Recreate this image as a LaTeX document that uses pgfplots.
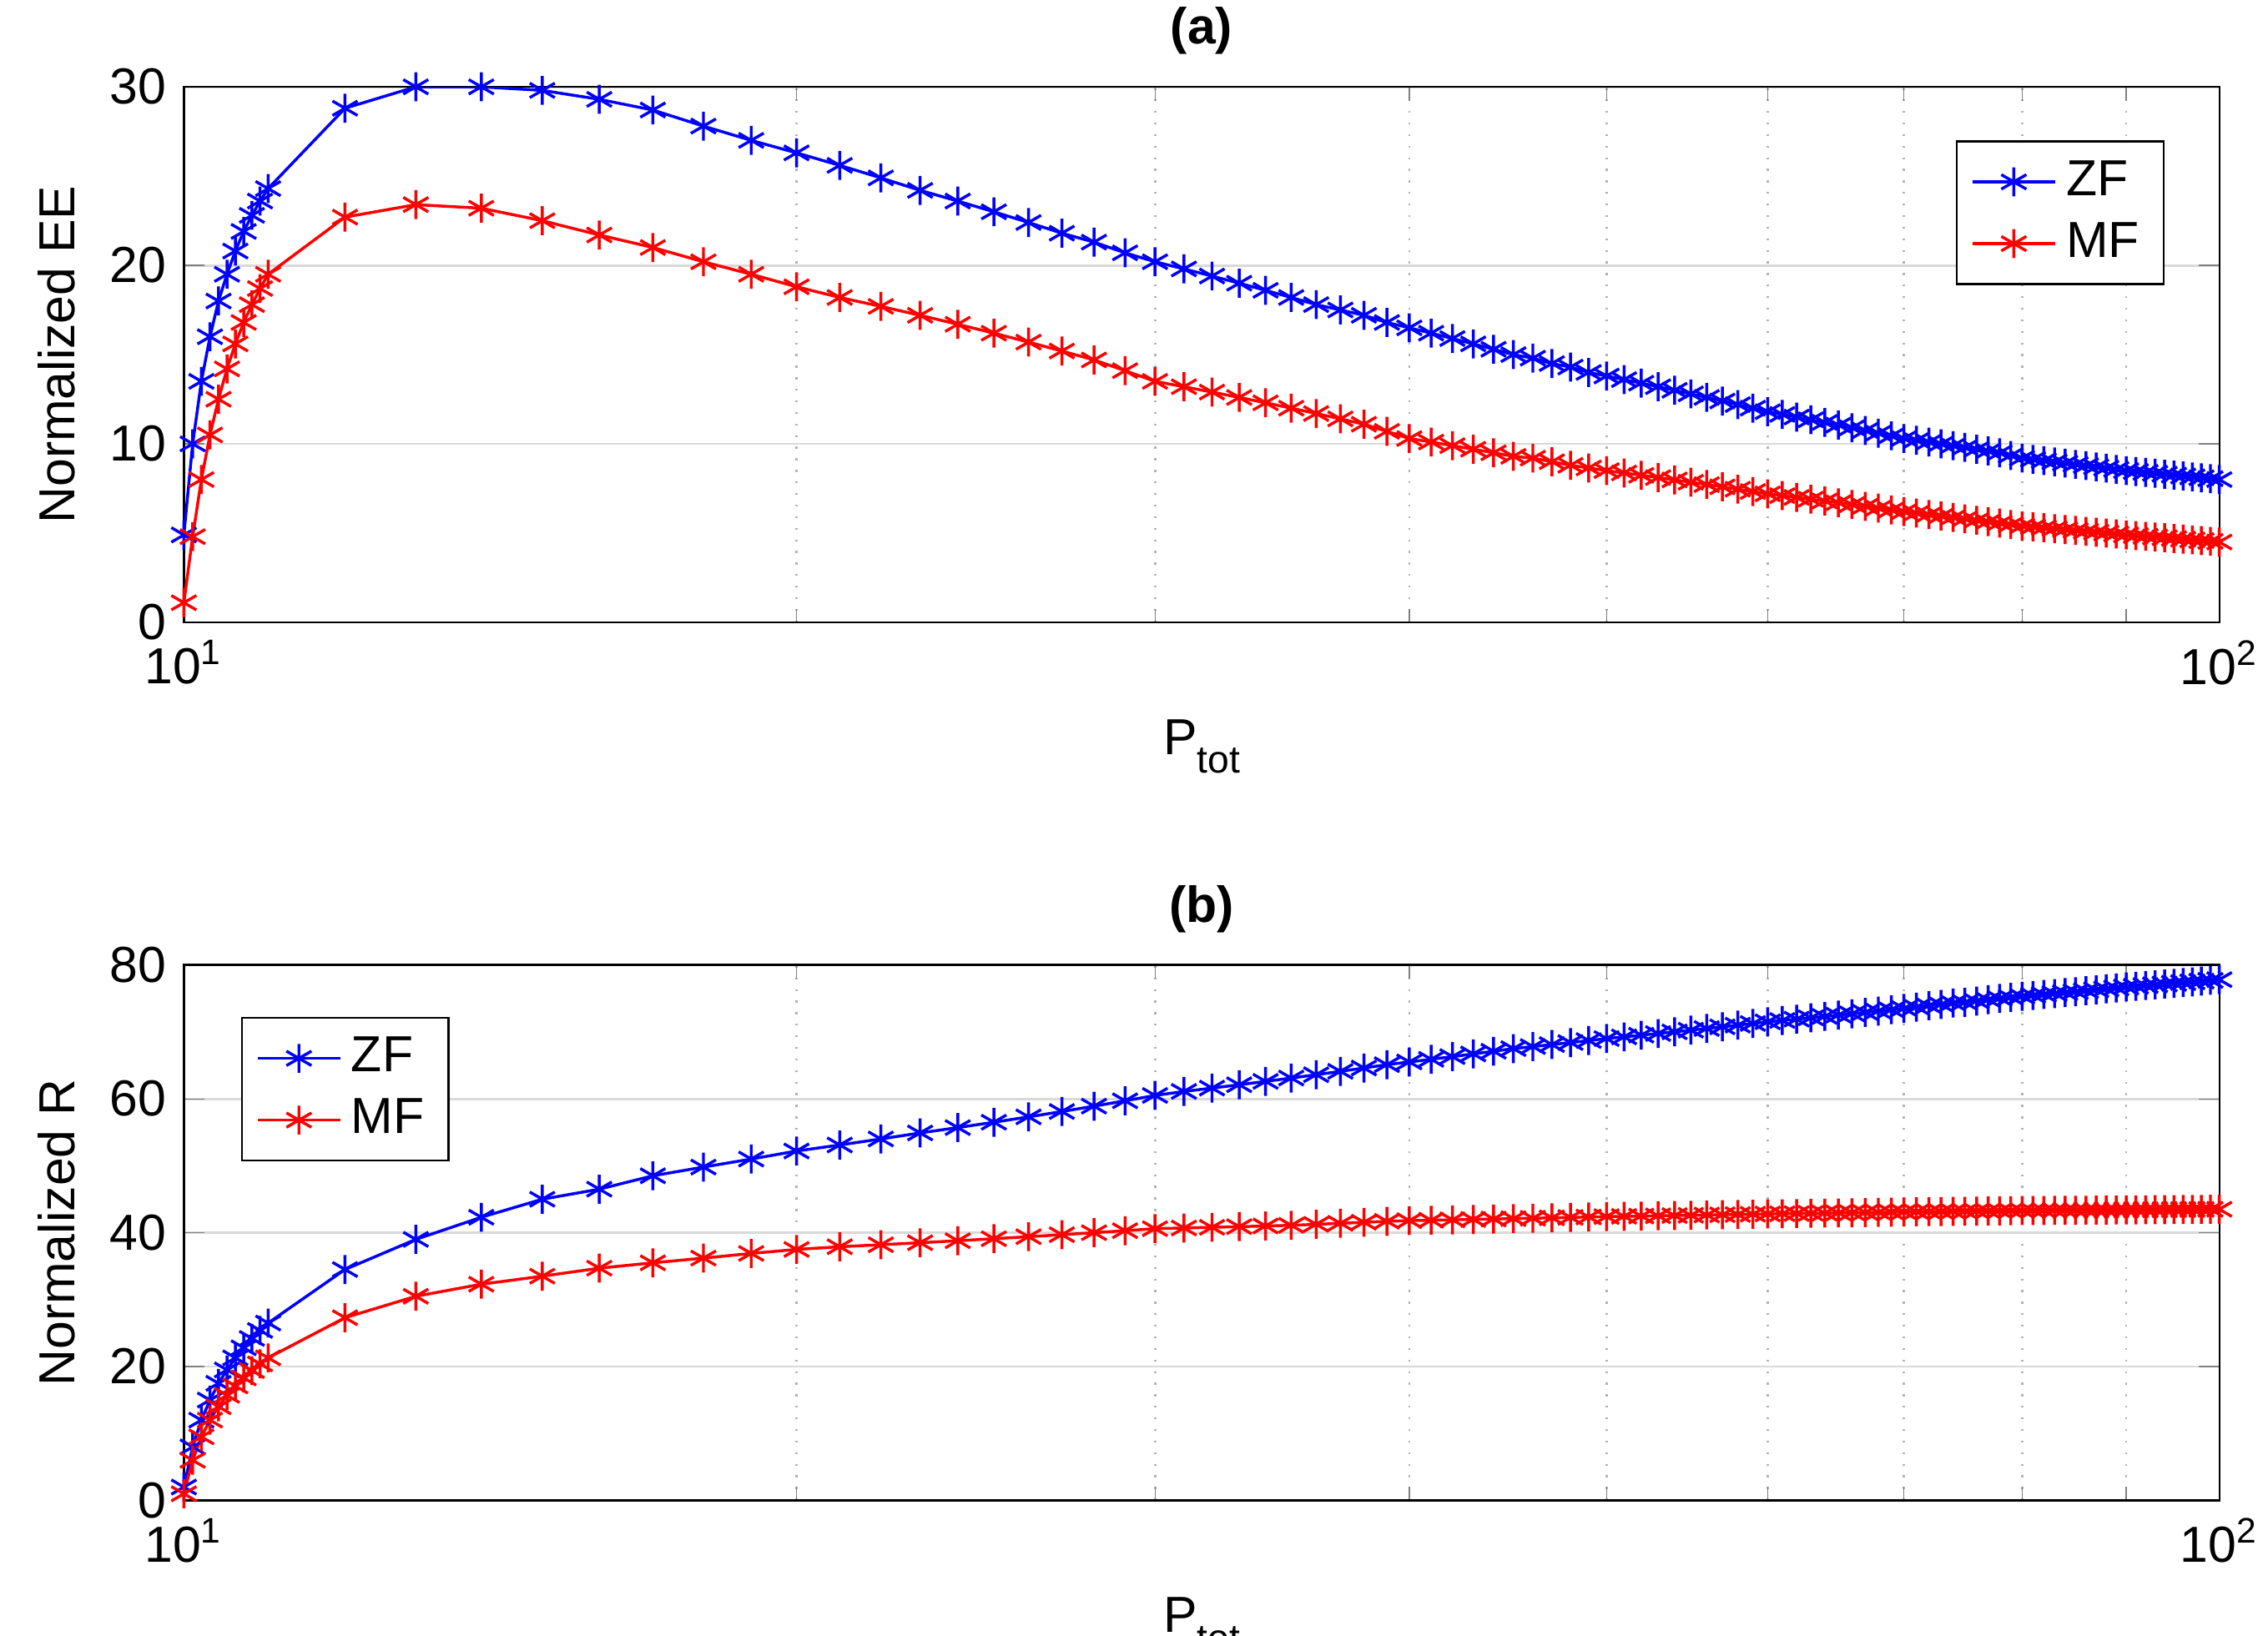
\documentclass[border=0pt]{standalone}
\usepackage{pgfplots}
\pgfplotsset{compat=1.18}
\usepackage{fontspec}
\setmainfont{Liberation Sans}
\begin{document}
\fontsize{10.5}{12}\selectfont
\begin{tikzpicture}
\useasboundingbox (-38.1pt,18pt) rectangle (431.9pt,-321pt);
\begin{axis}[xmode=log, scale only axis, width=421.8pt, height=111pt,
  xmin=10, xmax=100,
  xtick={10,100}, xticklabels={10\textsuperscript{1},10\textsuperscript{2}},
  minor xtick={20,30,40,50,60,70,80,90},
  tick align=inside, xtick pos=both, ytick pos=both,
  ymajorgrids, xminorgrids,
  major grid style={gray!30, line width=0.5pt},
  minor grid style={gray!60, dotted, line width=0.5pt},
  tick label style={font=\fontsize{10.5}{12}\selectfont},
  /pgf/number format/assume math mode=true,
  xlabel={P\raisebox{-0.7ex}{\fontsize{8}{9}\selectfont tot}},
  title style={font=\bfseries\fontsize{10.5}{12}\selectfont, yshift=-3pt},
  legend cell align=left,
  legend style={font=\fontsize{10.5}{12}\selectfont, draw=black, at={(0.973,0.9)}, anchor=north east},
  at={(0,0)}, anchor=north west, ymin=0, ymax=30, ytick={0,10,20,30},
  title={(a)}, ylabel={Normalized EE}]
\addplot[blue, mark=asterisk, mark size=3pt, line width=0.6pt] coordinates {
(10,4.9)(10.1,10)(10.2,13.5)(10.3,16)(10.4,18)(10.5,19.5)(10.6,20.8)(10.7,21.9)(10.8,22.8)(10.9,23.6)(11,24.3)
(12,28.8)(13,30.0)(14,30.0)(15,29.8)(16,29.3)(17,28.7)(18,27.8)(19,27.0)
(20,26.3)(21,25.6)(22,24.9)(23,24.2)(24,23.6)(25,23.0)(26,22.4)(27,21.8)(28,21.3)(29,20.7)
(30,20.2)(31,19.8)(32,19.4)(33,19.0)(34,18.6)(35,18.2)(36,17.8)(37,17.5)(38,17.2)(39,16.8)
(40,16.5)(41,16.2)(42,15.9)(43,15.6)(44,15.3)(45,15.0)(46,14.8)(47,14.5)(48,14.3)(49,14.0)
(50,13.8)(51,13.6)(52,13.4)(53,13.2)(54,13.0)(55,12.8)(56,12.6)(57,12.4)(58,12.2)(59,12.0)
(60,11.8)(61,11.65)(62,11.5)(63,11.35)(64,11.2)(65,11.05)(66,10.9)(67,10.75)(68,10.6)(69,10.45)
(70,10.3)(71,10.2)(72,10.1)(73,10.0)(74,9.9)(75,9.8)(76,9.7)(77,9.6)(78,9.5)(79,9.35)
(80,9.2)(81,9.13)(82,9.06)(83,8.99)(84,8.92)(85,8.85)(86,8.78)(87,8.71)(88,8.64)(89,8.57)
(90,8.5)(91,8.45)(92,8.4)(93,8.35)(94,8.3)(95,8.25)(96,8.2)(97,8.15)(98,8.1)(99,8.05)(100,8.0)};
\addlegendentry{ZF}
\addplot[red, mark=asterisk, mark size=3pt, line width=0.6pt] coordinates {
(10,1.1)(10.1,4.8)(10.2,8)(10.3,10.5)(10.4,12.5)(10.5,14.2)(10.6,15.6)(10.7,16.8)(10.8,17.8)(10.9,18.7)(11,19.5)
(12,22.7)(13,23.4)(14,23.2)(15,22.5)(16,21.7)(17,21.0)(18,20.2)(19,19.5)
(20,18.8)(21,18.2)(22,17.7)(23,17.2)(24,16.7)(25,16.2)(26,15.7)(27,15.2)(28,14.7)(29,14.1)
(30,13.5)(31,13.2)(32,12.9)(33,12.6)(34,12.3)(35,12.0)(36,11.7)(37,11.4)(38,11.1)(39,10.7)
(40,10.3)(41,10.1)(42,9.9)(43,9.7)(44,9.5)(45,9.3)(46,9.2)(47,9.0)(48,8.8)(49,8.65)
(50,8.5)(51,8.37)(52,8.24)(53,8.11)(54,7.98)(55,7.85)(56,7.72)(57,7.59)(58,7.46)(59,7.33)
(60,7.2)(61,7.1)(62,7.0)(63,6.9)(64,6.8)(65,6.7)(66,6.6)(67,6.5)(68,6.4)(69,6.3)
(70,6.2)(71,6.12)(72,6.04)(73,5.96)(74,5.88)(75,5.8)(76,5.72)(77,5.64)(78,5.56)(79,5.48)
(80,5.4)(81,5.35)(82,5.3)(83,5.25)(84,5.2)(85,5.15)(86,5.1)(87,5.05)(88,5.0)(89,4.95)
(90,4.9)(91,4.86)(92,4.82)(93,4.78)(94,4.74)(95,4.7)(96,4.66)(97,4.62)(98,4.58)(99,4.54)(100,4.5)};
\addlegendentry{MF}
\end{axis}
\begin{axis}[xmode=log, scale only axis, width=421.8pt, height=111pt,
  xmin=10, xmax=100,
  xtick={10,100}, xticklabels={10\textsuperscript{1},10\textsuperscript{2}},
  minor xtick={20,30,40,50,60,70,80,90},
  tick align=inside, xtick pos=both, ytick pos=both,
  ymajorgrids, xminorgrids,
  major grid style={gray!30, line width=0.5pt},
  minor grid style={gray!60, dotted, line width=0.5pt},
  tick label style={font=\fontsize{10.5}{12}\selectfont},
  /pgf/number format/assume math mode=true,
  xlabel={P\raisebox{-0.7ex}{\fontsize{8}{9}\selectfont tot}},
  title style={font=\bfseries\fontsize{10.5}{12}\selectfont, yshift=-3pt},
  legend cell align=left,
  legend style={font=\fontsize{10.5}{12}\selectfont, draw=black, at={(0.028,0.903)}, anchor=north west},
  at={(0,-182pt)}, anchor=north west, ymin=0, ymax=80, ytick={0,20,40,60,80},
  title={(b)}, ylabel={Normalized R}]
\addplot[blue, mark=asterisk, mark size=3pt, line width=0.6pt] coordinates {
(10,2)(10.1,8)(10.2,12)(10.3,15)(10.4,17.5)(10.5,19.5)(10.6,21.3)(10.7,22.8)(10.8,24.2)(10.9,25.4)(11,26.5)
(12,34.5)(13,39)(14,42.3)(15,45)(16,46.5)(17,48.5)(18,49.8)(19,51)
(20,52.2)(21,53.1)(22,54)(23,54.9)(24,55.7)(25,56.5)(26,57.3)(27,58.1)(28,58.9)(29,59.7)
(30,60.5)(31,61.1)(32,61.6)(33,62.1)(34,62.6)(35,63.1)(36,63.6)(37,64.1)(38,64.6)(39,65.1)
(40,65.5)(41,65.9)(42,66.3)(43,66.7)(44,67.1)(45,67.5)(46,67.8)(47,68.1)(48,68.4)(49,68.7)
(50,69)(51,69.25)(52,69.5)(53,69.75)(54,70)(55,70.25)(56,70.5)(57,70.75)(58,71)(59,71.25)
(60,71.5)(61,71.7)(62,71.9)(63,72.1)(64,72.3)(65,72.5)(66,72.7)(67,72.9)(68,73.1)(69,73.3)
(70,73.5)(71,73.7)(72,73.9)(73,74.1)(74,74.3)(75,74.4)(76,74.6)(77,74.8)(78,75)(79,75.15)
(80,75.3)(81,75.44)(82,75.58)(83,75.72)(84,75.86)(85,76)(86,76.14)(87,76.28)(88,76.42)(89,76.56)
(90,76.7)(91,76.81)(92,76.92)(93,77.03)(94,77.14)(95,77.25)(96,77.36)(97,77.47)(98,77.58)(99,77.69)(100,77.8)};
\addlegendentry{ZF}
\addplot[red, mark=asterisk, mark size=3pt, line width=0.6pt] coordinates {
(10,1)(10.1,6)(10.2,9.5)(10.3,12)(10.4,14)(10.5,15.7)(10.6,17.1)(10.7,18.3)(10.8,19.4)(10.9,20.4)(11,21.3)
(12,27.3)(13,30.5)(14,32.3)(15,33.5)(16,34.7)(17,35.5)(18,36.2)(19,36.9)
(20,37.5)(21,37.9)(22,38.2)(23,38.5)(24,38.8)(25,39.1)(26,39.4)(27,39.7)(28,40.0)(29,40.3)
(30,40.6)(31,40.7)(32,40.8)(33,40.9)(34,41.0)(35,41.1)(36,41.25)(37,41.4)(38,41.55)(39,41.7)
(40,41.8)(41,41.86)(42,41.92)(43,41.98)(44,42.04)(45,42.1)(46,42.16)(47,42.22)(48,42.28)(49,42.34)
(50,42.4)(51,42.44)(52,42.48)(53,42.52)(54,42.56)(55,42.6)(56,42.64)(57,42.68)(58,42.72)(59,42.76)
(60,42.8)(61,42.83)(62,42.86)(63,42.89)(64,42.92)(65,42.95)(66,42.98)(67,43.01)(68,43.04)(69,43.07)
(70,43.1)(71,43.12)(72,43.14)(73,43.16)(74,43.18)(75,43.2)(76,43.22)(77,43.24)(78,43.26)(79,43.28)
(80,43.3)(81,43.31)(82,43.32)(83,43.33)(84,43.34)(85,43.35)(86,43.36)(87,43.37)(88,43.38)(89,43.39)
(90,43.4)(91,43.41)(92,43.42)(93,43.43)(94,43.44)(95,43.45)(96,43.46)(97,43.47)(98,43.48)(99,43.49)(100,43.5)};
\addlegendentry{MF}
\end{axis}
\end{tikzpicture}
\end{document}
